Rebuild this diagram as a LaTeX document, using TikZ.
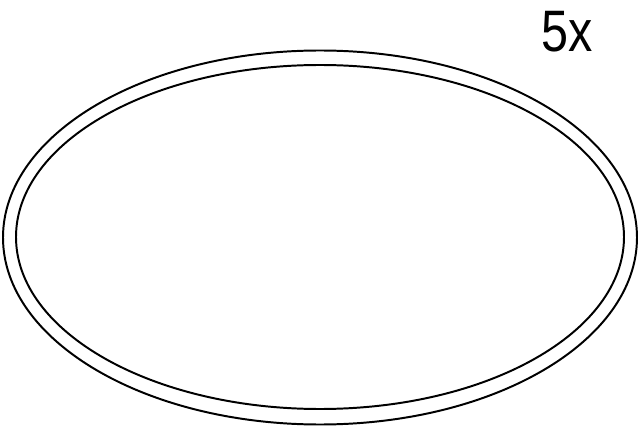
\documentclass[tikz,border=0pt]{standalone}
\usepackage{fontspec}
\setmainfont{Liberation Sans}
\begin{document}
\begin{tikzpicture}[x=0.025cm, y=-0.025cm]
      \useasboundingbox (0, 0) rectangle (640, 427);

      \draw [line width=1.4pt] (320, 237.5) ellipse [x radius=317, y radius=187];
      \draw [line width=1.4pt] (320, 237) ellipse [x radius=304, y radius=172];

      \node (count) [anchor = base, inner sep = 0pt, xscale = 0.83]
        at (567, 52) {\fontsize{41.6}{42}\selectfont 5x};
    \end{tikzpicture}
\end{document}
